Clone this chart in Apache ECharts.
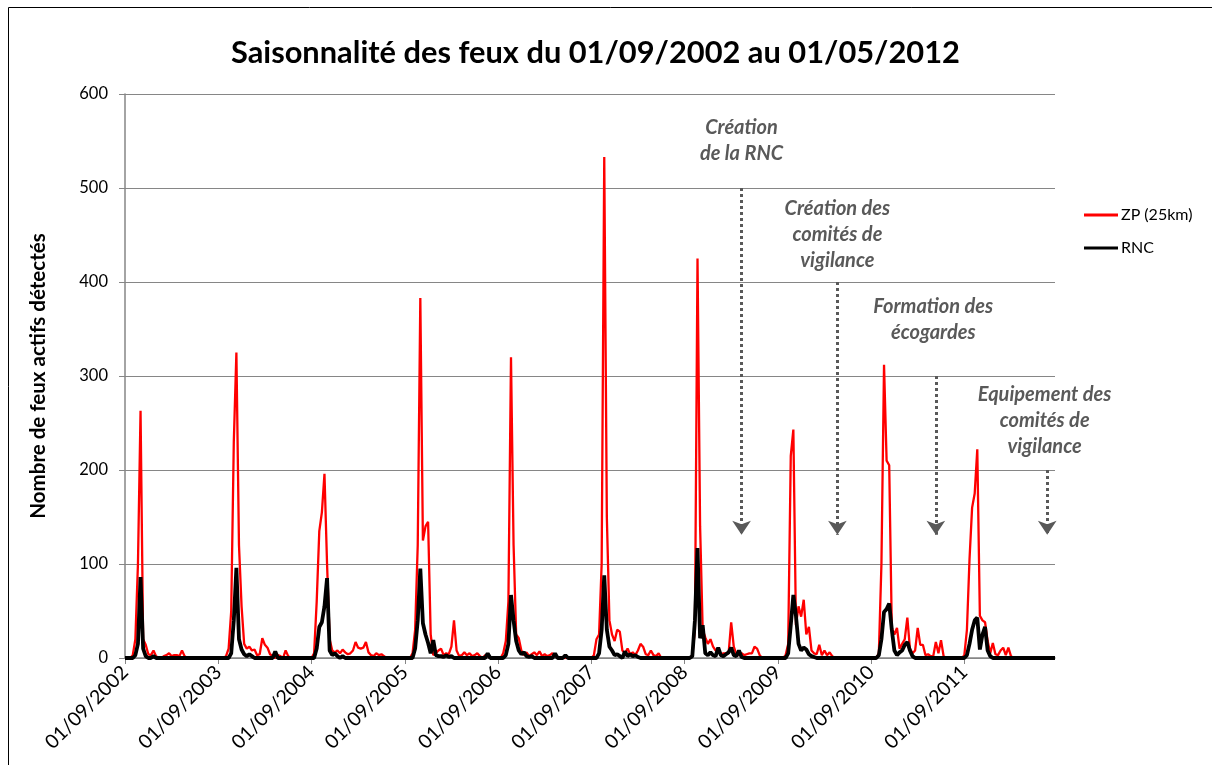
<!DOCTYPE html>
<html>
<head>
<meta charset="utf-8">
<script src="https://cdn.jsdelivr.net/npm/echarts@6/dist/echarts.min.js"></script>
<style>
html,body{margin:0;padding:0;background:#fff;}
#chart{width:1212px;height:765px;}
</style>
</head>
<body>
<div id="chart"></div>
<script>
// Dekadal (36 per season) counts, each season starts 01/09
const zp2002 = [0,0,0,3,20,100,263,20,14,4,3,8,2,0,0,2,3,5,2,3,3,2,8,2,0,0,0,0,0,0,0,0,0,0,0,0];
const zp2003 = [0,0,0,2,10,50,230,325,120,55,15,10,12,8,9,3,4,21,14,11,4,2,0,3,2,0,8,2,0,0,0,0,0,0,0,0];
const zp2004 = [0,5,60,135,155,196,100,20,8,6,8,5,9,6,4,5,8,17,11,10,11,17,6,3,2,5,3,4,2,0,0,0,0,0,0,0];
const zp2005 = [0,0,0,5,30,120,383,125,140,145,25,3,5,8,10,3,5,4,12,40,8,2,3,6,3,5,2,3,5,2,0,3,2,0,0,0];
const zp2006 = [0,0,5,18,60,320,120,25,21,8,3,6,2,4,6,3,7,2,4,2,3,5,2,0,0,0,0,0,0,0,0,0,0,0,0,0];
const zp2007 = [0,3,20,25,100,533,150,40,25,18,30,28,8,5,10,4,6,3,8,15,12,4,3,8,3,2,5,0,0,0,0,0,0,0,0,0];
const zp2008 = [0,0,0,3,30,425,140,30,22,15,20,12,8,10,3,5,5,5,38,12,4,3,5,3,4,5,5,12,10,3,0,0,0,0,0,0];
const zp2009 = [0,0,0,3,15,215,243,35,55,44,62,25,33,8,5,4,14,3,8,3,6,2,0,0,0,0,0,0,0,0,0,0,0,0,0,0];
const zp2010 = [0,0,0,5,100,312,210,205,32,25,32,10,15,20,43,10,5,8,32,14,14,3,4,2,2,17,5,19,2,0,0,0,0,0,0,0];
const zp2011 = [3,30,105,160,175,222,45,40,38,18,5,16,4,3,8,11,3,11,2,0,0,0,0,0,0,0,0,0,0,0,0,0,0,0,0,0];

const rnc2002 = [0,0,0,0,3,15,86,10,2,0,0,2,0,0,0,0,0,0,0,0,0,0,0,0,0,0,0,0,0,0,0,0,0,0,0,0];
const rnc2003 = [0,0,0,0,0,5,40,96,20,9,4,2,4,2,0,0,0,0,0,0,0,0,7,0,0,0,0,0,0,0,0,0,0,0,0,0];
const rnc2004 = [0,0,10,33,38,55,85,8,3,5,2,0,2,0,0,0,0,0,0,0,0,0,0,0,0,0,0,0,0,0,0,0,0,0,0,0];
const rnc2005 = [0,0,0,0,10,40,95,37,25,16,5,19,3,2,2,1,3,1,2,0,0,0,0,0,0,0,0,0,0,0,0,0,5,0,0,0];
const rnc2006 = [0,0,0,3,15,67,40,18,8,4,6,2,1,2,0,0,0,0,0,0,0,0,5,0,0,0,3,0,0,0,0,0,0,0,0,0];
const rnc2007 = [0,0,0,5,30,88,30,12,8,3,4,2,0,7,2,4,2,3,1,0,0,0,0,0,0,0,0,0,0,0,0,0,0,0,0,0];
const rnc2008 = [0,0,0,2,40,117,21,35,5,3,6,3,2,11,3,2,4,6,11,3,2,8,1,0,0,0,0,0,0,0,0,0,0,0,0,0];
const rnc2009 = [0,0,0,0,5,35,67,45,15,8,11,9,4,2,1,0,0,0,0,0,0,0,0,0,0,0,0,0,0,0,0,0,0,0,0,0];
const rnc2010 = [0,0,0,3,20,49,52,58,30,8,3,6,8,14,17,8,2,0,0,0,0,0,0,0,0,0,0,0,0,0,0,0,0,0,0,0];
const rnc2011 = [0,3,15,30,40,43,9,25,33,8,2,0,0,0,0,0,0,0,0,0,0,0,0,0,0,0,0,0,0,0,0,0,0,0,0,0];

const tickLabels = ['01/09/2002','01/09/2003','01/09/2004','01/09/2005','01/09/2006','01/09/2007','01/09/2008','01/09/2009','01/09/2010','01/09/2011'];
const perSeason = 36;

// Annotations (event position as dekad index from 01/09/2002, arrow top value)
const eventTexts = ['Création\nde la RNC', 'Création des\ncomités de\nvigilance', 'Formation des\nécogardes', 'Equipement des\ncomités de\nvigilance'];
const eventIndex = [238, 275, 313, 356];
const eventArrowTop = [500, 400, 300, 200];
const eventArrowBottom = 131;
const eventTextIndex = [237.6, 275.4, 311.6, 354.8];
const eventTextValue = [550, 451, 360, 253];

const zp = [].concat(zp2002, zp2003, zp2004, zp2005, zp2006, zp2007, zp2008, zp2009, zp2010, zp2011);
const rnc = [].concat(rnc2002, rnc2003, rnc2004, rnc2005, rnc2006, rnc2007, rnc2008, rnc2009, rnc2010, rnc2011);
const cats = zp.map((v, i) => i);

const FONT = 'Lato, "Open Sans", sans-serif';
const chart = echarts.init(document.getElementById('chart'), null, {renderer: 'canvas'});

const arrowLines = eventIndex.map((ix, k) => [
  {coord: [ix, eventArrowTop[k]]},
  {coord: [ix, eventArrowBottom]}
]);
const textPoints = eventTexts.map((t, k) => ({
  coord: [eventTextIndex[k], eventTextValue[k]],
  label: {formatter: t}
}));

chart.setOption({
  animation: false,
  backgroundColor: '#fff',
  title: {
    text: 'Saisonnalité des feux du 01/09/2002 au 01/05/2012',
    left: 226, top: 33,
    textStyle: {fontFamily: FONT, fontWeight: 'bold', fontSize: 30.8, color: '#000'}
  },
  legend: {
    orient: 'vertical',
    left: 1079, top: 202,
    itemWidth: 34, itemHeight: 3, itemGap: 17,
    icon: 'rect',
    textStyle: {fontFamily: FONT, fontSize: 16, color: '#000', padding: [0,0,0,-2]},
    data: [
      {name: 'ZP (25km)', itemStyle: {color: '#ff0000'}},
      {name: 'RNC', itemStyle: {color: '#000'}}
    ]
  },
  grid: {left: 125, right: 157, top: 94, bottom: 107, containLabel: false},
  xAxis: {
    type: 'category',
    data: cats,
    boundaryGap: false,
    axisLine: {show: true, lineStyle: {color: '#868686', width: 1.5}},
    axisTick: {show: true, length: 6, interval: (i) => i % perSeason === 0, lineStyle: {color: '#868686'}},
    axisLabel: {
      interval: (i) => i % perSeason === 0,
      rotate: 45, margin: 11,
      fontFamily: FONT, fontSize: 19.5, color: '#000',
      formatter: (v, i) => tickLabels[Math.round(i / perSeason)] || ''
    },
    splitLine: {show: false}
  },
  yAxis: {
    type: 'value', min: 0, max: 600, interval: 100,
    name: 'Nombre de feux actifs détectés',
    nameLocation: 'middle', nameGap: 76, nameRotate: 90,
    nameTextStyle: {fontFamily: FONT, fontWeight: 'bold', fontSize: 20.5, color: '#000'},
    axisLine: {show: true, lineStyle: {color: '#868686', width: 1.5}},
    axisTick: {show: true, length: 6, lineStyle: {color: '#868686'}},
    axisLabel: {fontFamily: FONT, fontSize: 16.5, color: '#000', margin: 17},
    splitLine: {lineStyle: {color: '#868686', width: 1}}
  },
  graphic: [{
    type: 'rect', silent: true, z: 100,
    shape: {x: 8.5, y: 7.5, width: 1300, height: 900},
    style: {fill: 'none', stroke: '#000', lineWidth: 1}
  }],
  series: [
    {
      name: 'ZP (25km)', type: 'line', data: zp,
      showSymbol: false, symbol: 'none',
      lineStyle: {color: '#ff0000', width: 2.3},
      itemStyle: {color: '#ff0000'},
      z: 2,
      markLine: {
        silent: true, animation: false,
        symbol: ['none', 'arrow'], symbolSize: [14, 14],
        lineStyle: {type: 'dotted', color: '#595959', width: 3},
        itemStyle: {color: '#595959'},
        label: {show: false},
        data: arrowLines
      },
      markPoint: {
        silent: true, animation: false,
        symbol: 'circle', symbolSize: 1,
        itemStyle: {color: 'rgba(0,0,0,0)'},
        label: {
          show: true, position: 'inside',
          fontFamily: FONT, fontWeight: 'bold', fontStyle: 'italic',
          fontSize: 20, lineHeight: 26, color: '#595959', align: 'center'
        },
        data: textPoints
      }
    },
    {
      name: 'RNC', type: 'line', data: rnc,
      showSymbol: false, symbol: 'none',
      lineStyle: {color: '#000', width: 3.8},
      itemStyle: {color: '#000'},
      z: 3
    }
  ]
});
</script>
</body>
</html>
